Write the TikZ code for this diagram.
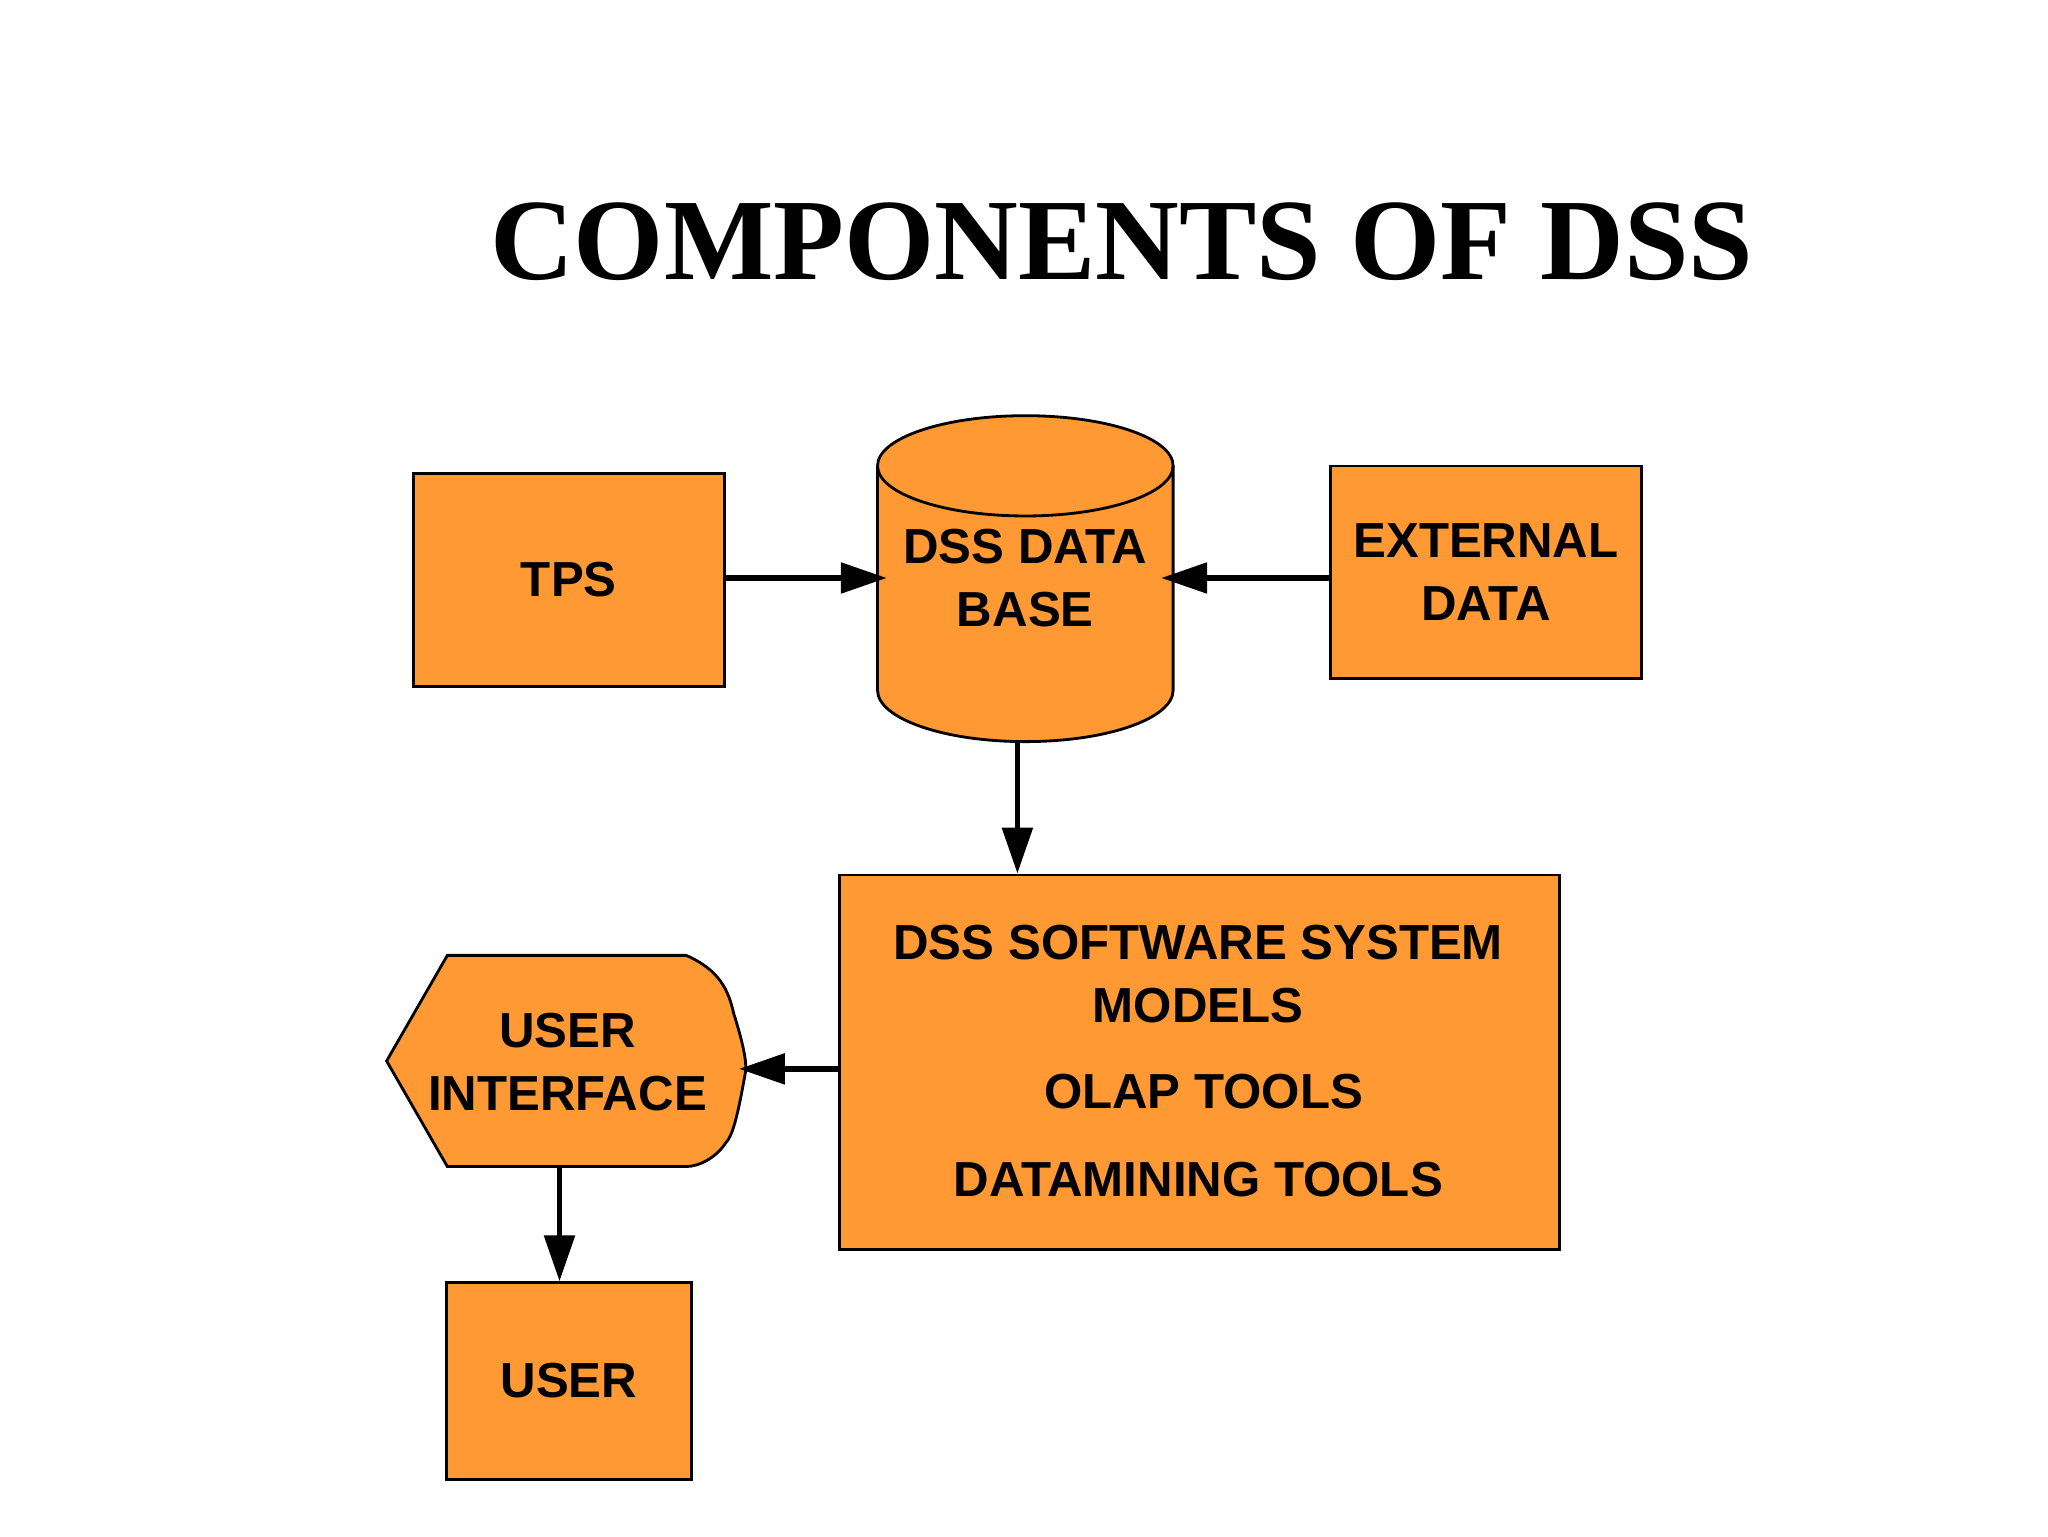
\documentclass[tikz,border=0pt]{standalone}
\usepackage{fontspec}
\setmainfont{Liberation Sans}
\newfontfamily\titlefont{Liberation Serif}
\usetikzlibrary{arrows.meta}
\definecolor{boxor}{HTML}{FF9933}
\tikzset{
  shp/.style={fill=boxor,draw=black,line width=0.8pt},
  lbl/.style={font=\fontsize{14}{18}\selectfont\bfseries,align=center,text=black},
  conn/.style={line width=1.6pt,-{Triangle[length=0.46cm,width=0.3cm]}},
}
\begin{document}
\begin{tikzpicture}[x=0.013196cm,y=-0.013196cm]
\useasboundingbox (0,0) rectangle (1552,1164);
\node[font=\titlefont\fontsize{33}{36}\selectfont\bfseries] (title) at (850,183) {COMPONENTS OF DSS};
% TPS
\node[shp,lbl,anchor=north west,minimum width=236*0.013196cm,minimum height=161*0.013196cm] (tps) at (312,358) {TPS};
% External
\node[shp,lbl,anchor=north west,minimum width=236*0.013196cm,minimum height=161*0.013196cm] (ext) at (1007,352) {EXTERNAL\\DATA};
% Cylinder
\draw[shp] (665,353) -- (665,523) arc[start angle=180,end angle=360,x radius=112,y radius=-39] -- (889,353) arc[start angle=0,end angle=180,x radius=112,y radius=-38] -- cycle;
\draw[line width=0.8pt] (665,353) arc[start angle=180,end angle=360,x radius=112,y radius=-38];
\node[lbl] (db) at (777,438) {DSS DATA\\BASE};
\coordinate (dbl) at (672,438);
\coordinate (dbr) at (880,438);
\coordinate (dbb) at (771,562);
% Software
\node[shp,lbl,anchor=north west,minimum width=546*0.013196cm,minimum height=284*0.013196cm] (sw) at (635,662) {};
\node[lbl] (sw1) at (908,738) {DSS SOFTWARE SYSTEM\\MODELS};
\node[lbl] (sw2) at (912,827) {OLAP TOOLS};
\node[lbl] (sw3) at (908,894) {DATAMINING TOOLS};
\coordinate (swt) at (771,662);
\coordinate (swl) at (635,810);
% User interface
\draw[shp] (293,804) -- (339,724) -- (520,724) .. controls (545,735) and (552,750) .. (556,768) .. controls (563,790) and (566,805) .. (565,812) .. controls (560,840) and (556,860) .. (550,866) .. controls (543,877) and (530,884) .. (520,884) -- (339,884) -- cycle;
\node[lbl] (ui) at (430,805) {USER\\INTERFACE};
\coordinate (uir) at (560,810);
\coordinate (uib) at (424,884);
% User
\node[shp,lbl,anchor=north west,minimum width=186*0.013196cm,minimum height=149*0.013196cm] (user) at (337,971) {USER};
\coordinate (usert) at (424,971);
% connectors
\draw[conn] (tps.east |- dbl) -- (dbl);
\draw[conn] (ext.west |- dbr) -- (dbr);
\draw[conn] (dbb) -- (swt);
\draw[conn] (swl) -- (uir);
\draw[conn] (uib) -- (usert);
\end{tikzpicture}
\end{document}
